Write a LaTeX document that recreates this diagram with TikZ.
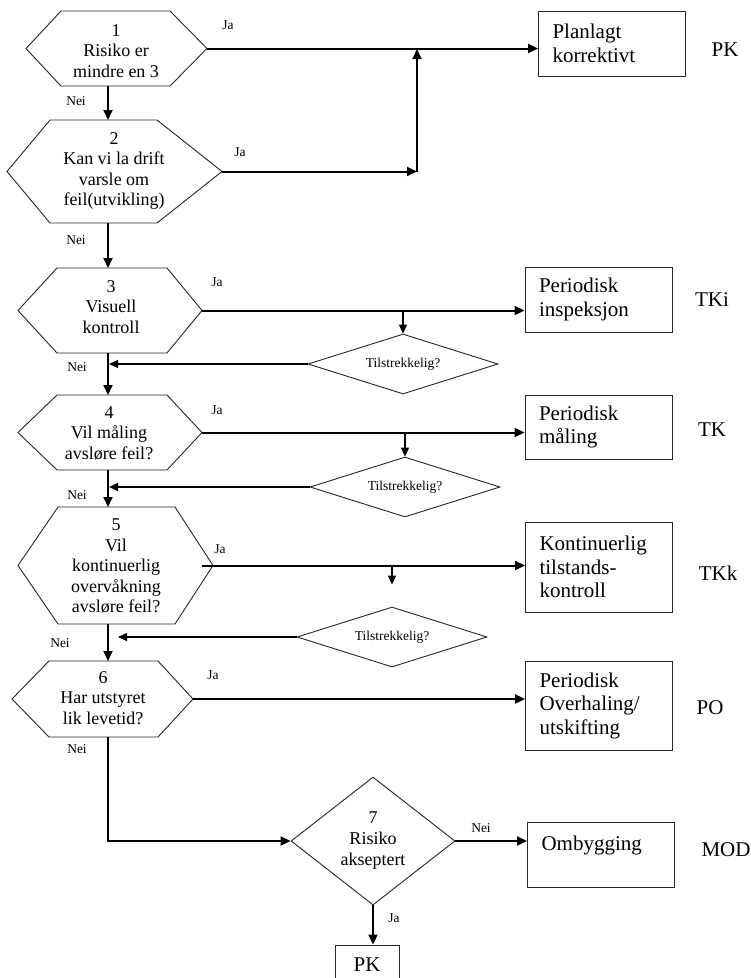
\documentclass[tikz,border=0pt]{standalone}
\usepackage{fontspec}
\setmainfont{Liberation Serif}
\usetikzlibrary{arrows.meta,shapes.geometric,calc}

\newcommand{\hexdraw}[7]{%
  \draw[hexline] (#2,{(#6+#7)/2}) -- (#3,#6) -- (#4,#6) -- (#5,{(#6+#7)/2}) -- (#4,#7) -- (#3,#7) -- cycle;
  \coordinate (#1-e) at (#5,{(#6+#7)/2});
  \coordinate (#1-n) at (108,#6);
  \coordinate (#1-s) at (108,#7);
}

\tikzset{
  hexline/.style={draw=black!85, line width=0.9pt, line join=miter},
  hextext/.style={align=center, font=\fontsize{18}{20.5}\selectfont, inner sep=0pt},
  boxnode/.style={draw=black!85, line width=0.9pt, minimum width=147pt, text width=119pt,
    inner xsep=14pt, inner ysep=0pt, align=left, font=\fontsize{21}{23.5}\selectfont},
  tagtext/.style={font=\fontsize{21}{24}\selectfont, inner sep=0pt},
  lbl/.style={font=\fontsize{13.5}{15}\selectfont, inner sep=0pt},
  suff/.style={diamond, draw=black!85, line width=0.9pt, inner sep=0pt, aspect=3.2,
    minimum width=190pt, minimum height=60pt, font=\fontsize{13.5}{15}\selectfont},
  bigdia/.style={diamond, draw=black!85, line width=0.9pt, inner sep=0pt, aspect=1.28,
    minimum width=164pt, minimum height=128pt, align=center, font=\fontsize{18}{21}\selectfont},
  mainarrow/.style={line width=2pt, -{Triangle[length=10pt,width=9pt]}},
  backarrow/.style={line width=1.1pt, -{Triangle[length=9pt,width=8pt]}},
  smallarrow/.style={line width=1.3pt, -{Triangle[length=9pt,width=8pt]}},
}

\begin{document}
\begin{tikzpicture}[x=1pt,y=-1pt]
\useasboundingbox (0,0) rectangle (751,978);
\fill[white] (0,0) rectangle (751,978);
\clip (0,0) rectangle (751,978);

% hexagons
\hexdraw{h1}{26}{61}{170}{207}{11}{86}
\node[hextext] (t1) at (116,51) {1\\Risiko er\\mindre en 3};
\hexdraw{h2}{7}{50}{157}{222}{120}{223}
\node[hextext] (t2) at (114,171) {2\\Kan vi la drift\\varsle om\\feil(utvikling)};
\hexdraw{h3}{18}{57}{167}{202}{268}{353}
\node[hextext] (t3) at (111,307) {3\\Visuell\\kontroll};
\hexdraw{h4}{18}{57}{167}{202}{395}{470}
\node[hextext] (t4) at (109,433) {4\\Vil måling\\avsløre feil?};
\hexdraw{h5}{18}{58}{175}{213}{507}{624}
\node[hextext] (t5) at (116,566) {5\\Vil\\kontinuerlig\\overvåkning\\avsløre feil?};
\hexdraw{h6}{12}{49}{158}{193}{661}{737}
\node[hextext] (t6) at (103,698) {6\\Har utstyret\\lik levetid?};

% result boxes
\node[boxnode, minimum width=146pt, minimum height=65pt] (pk1) at (612,43.5) {Planlagt\\korrektivt};
\node[boxnode, minimum height=65pt] (tki) at (598.5,299.5) {Periodisk\\inspeksjon};
\node[boxnode, minimum height=64pt] (tk) at (598.5,427) {Periodisk\\måling};
\node[boxnode, minimum height=90pt] (tkk) at (599,567) {Kontinuerlig\\tilstands-\\kontroll};
\node[boxnode, minimum height=89pt] (po) at (599,705.5) {Periodisk\\Overhaling/\\utskifting};
\node[boxnode, minimum height=65pt] (om) at (601,854.5) {Ombygging\\\mbox{}};
\node[draw=black!85, line width=0.9pt, minimum width=64pt, minimum height=40pt, inner sep=0pt,
  font=\fontsize{21}{24}\selectfont] (pk2) at (367,965) {PK};

% tags
\node[tagtext] (g1) at (725,50) {PK};
\node[tagtext] (g2) at (712,300) {TKi};
\node[tagtext] (g3) at (712,430) {TK};
\node[tagtext] (g4) at (718,573) {TKk};
\node[tagtext] (g5) at (710,708) {PO};
\node[tagtext] (g6) at (726,850) {MOD};

% sufficiency diamonds
\node[suff] (d1) at (403,364) {Tilstrekkelig?};
\node[suff] (d2) at (405,487) {Tilstrekkelig?};
\node[suff] (d3) at (392,637) {Tilstrekkelig?};
\node[bigdia] (d7) at (373,841) {7\\Risiko\\akseptert};

% main vertical flow
\draw[mainarrow] (h1-s) -- (h2-n);
\draw[mainarrow] (h2-s) -- (h3-n);
\draw[mainarrow] (h3-s) -- (h4-n);
\draw[mainarrow] (h4-s) -- (h5-n);
\draw[mainarrow] (h5-s) -- (h6-n);
\draw[mainarrow] (h6-s) |- (d7.west);

% Ja branches
\coordinate (j1) at (417,49);
\draw[mainarrow] (h1-e) -- (h1-e -| pk1.west);
\draw[mainarrow] (h2-e) -- (h2-e -| j1);
\draw[mainarrow] (h2-e -| j1) -- (j1);
\draw[mainarrow] (h3-e) -- (h3-e -| tki.west);
\draw[mainarrow] (h4-e) -- (h4-e -| tk.west);
\draw[mainarrow] ($(h5-e)+(-11,0)$) -- (h5-e -| tkk.west);
\draw[mainarrow] (h6-e) -- (h6-e -| po.west);
\draw[mainarrow] (d7.east) -- (d7.east -| om.west);
\draw[mainarrow] (d7.south) -- (d7.south |- pk2.north);

% small down arrows
\draw[smallarrow] (h3-e -| d1.north) -- (d1.north);
\draw[smallarrow] (h4-e -| d2.north) -- (d2.north);
\draw[smallarrow, shorten >=22pt] (h5-e -| d3.north) -- (d3.north);

% back arrows
\draw[backarrow, shorten >=1pt] (d1.west) -- (d1.west -| h3-s);
\draw[backarrow, shorten >=1pt] (d2.west) -- (d2.west -| h4-s);
\draw[backarrow, shorten >=10pt] (d3.west) -- (d3.west -| h5-s);

% labels
\node[lbl] (ja1) at (228,25) {Ja};
\node[lbl] (ja2) at (240,152) {Ja};
\node[lbl] (ja3) at (217,282) {Ja};
\node[lbl] (ja4) at (217,410) {Ja};
\node[lbl] (ja5) at (220,549) {Ja};
\node[lbl] (ja6) at (213,675) {Ja};
\node[lbl] (ja7) at (394,918) {Ja};
\node[lbl] (n1) at (76,101) {Nei};
\node[lbl] (n2) at (76,240) {Nei};
\node[lbl] (n3) at (77,367) {Nei};
\node[lbl] (n4) at (77,495) {Nei};
\node[lbl] (n5) at (60,643) {Nei};
\node[lbl] (n6) at (77,749) {Nei};
\node[lbl] (n7) at (481,828) {Nei};
\end{tikzpicture}
\end{document}
